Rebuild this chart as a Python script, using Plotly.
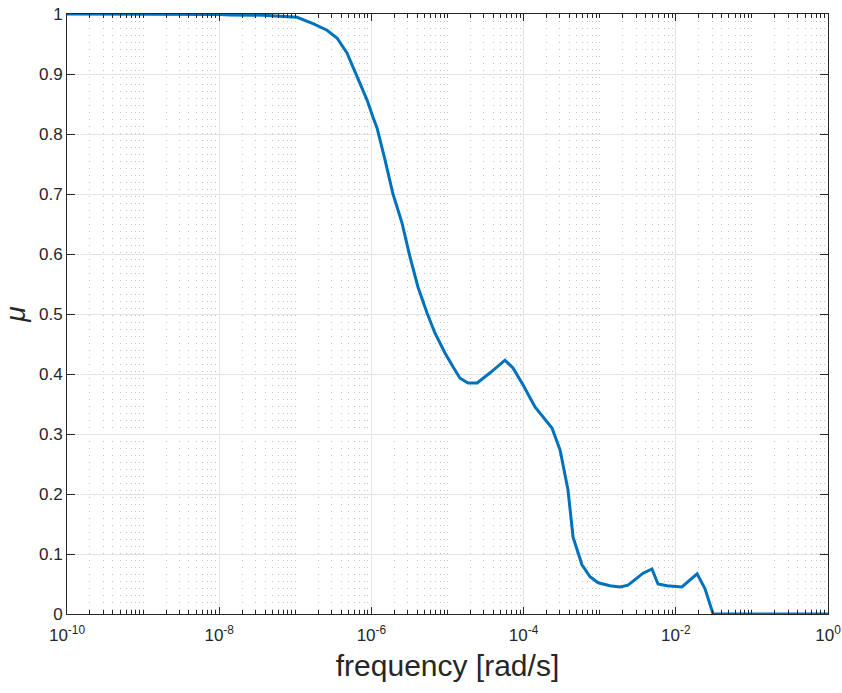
import plotly.graph_objects as go

# log10(frequency) and mu values
log_freq = [-10.0, -9.0, -8.5, -8.0, -7.858, -7.424, -6.978, -6.767, -6.583, -6.452,
            -6.321, -6.242, -6.15, -6.058, -5.979, -5.926, -5.821, -5.716, -5.598,
            -5.493, -5.388, -5.27, -5.164, -5.033, -4.928, -4.836, -4.73, -4.61,
            -4.44, -4.245, -4.14, -4.008, -3.85, -3.627, -3.52, -3.417, -3.35,
            -3.233, -3.127, -3.02, -2.865, -2.733, -2.628, -2.43, -2.313, -2.234,
            -2.116, -1.92, -1.72, -1.616, -1.51, -1.0, 0.0]
mu = [1.0, 1.0, 0.9995, 0.999, 0.9985, 0.998, 0.9945, 0.984, 0.973, 0.96,
      0.935, 0.912, 0.885, 0.857, 0.828, 0.81, 0.757, 0.70, 0.652,
      0.595, 0.545, 0.502, 0.468, 0.435, 0.412, 0.393, 0.385, 0.385,
      0.402, 0.423, 0.41, 0.382, 0.345, 0.31, 0.273, 0.207, 0.128,
      0.082, 0.062, 0.052, 0.047, 0.045, 0.048, 0.068, 0.075, 0.05,
      0.047, 0.045, 0.067, 0.042, 0.0, 0.0, 0.0]

freq = [10 ** v for v in log_freq]

x_major_exp = [-10, -8, -6, -4, -2, 0]
x_major_vals = [10.0 ** e for e in x_major_exp]
x_major_text = ["10<sup>%d</sup>" % e for e in x_major_exp]
x_minor_vals = []
for d in range(-10, 0):
    for k in range(1, 10):
        v = k * 10.0 ** d
        if not (k == 1 and d % 2 == 0):
            x_minor_vals.append(v)

y_vals = [i / 10 for i in range(11)]
y_text = ["0", "0.1", "0.2", "0.3", "0.4", "0.5", "0.6", "0.7", "0.8", "0.9", "1"]

fig = go.Figure()
fig.add_trace(go.Scatter(x=freq, y=mu, mode="lines",
                         line=dict(color="#0072BD", width=3),
                         cliponaxis=False, showlegend=False))

axis_color = "#262626"
fig.update_layout(
    width=842, height=693,
    margin=dict(l=67, r=14, t=14, b=79),
    paper_bgcolor="white", plot_bgcolor="white",
    font=dict(family="Liberation Sans, Arial, sans-serif", color=axis_color, size=15),
    xaxis=dict(
        type="log", range=[-10, 0], automargin=False,
        tickmode="array", tickvals=x_major_vals, ticktext=x_major_text,
        ticklabeloverflow="allow", ticklabelstandoff=6,
        ticks="inside", ticklen=7, tickcolor=axis_color,
        showline=True, linecolor=axis_color, linewidth=1, mirror="allticks",
        showgrid=True, gridcolor="#e3e3e3", gridwidth=1,
        zeroline=False,
        tickfont=dict(size=17),
        minor=dict(tickmode="array", tickvals=x_minor_vals, ticks="inside", ticklen=4,
                   tickcolor=axis_color, showgrid=True, gridcolor="#c4c4c4",
                   griddash="1px,6px", gridwidth=1),
        title=dict(text="frequency [rad/s]", font=dict(size=30), standoff=10),
    ),
    yaxis=dict(
        range=[0, 1], automargin=False,
        tickmode="array", tickvals=y_vals, ticktext=y_text,
        ticklabeloverflow="allow",
        ticks="inside", ticklen=8, tickcolor=axis_color,
        showline=True, linecolor=axis_color, linewidth=1, mirror="allticks",
        showgrid=True, gridcolor="#e3e3e3", gridwidth=1,
        zeroline=False,
        tickfont=dict(size=17),
        title=dict(text="<i>μ</i>", font=dict(size=28), standoff=10),
    ),
)

fig.write_html("out.html", config={"displayModeBar": False},
               post_script="document.body.style.margin='0';document.body.style.overflow='hidden';")
